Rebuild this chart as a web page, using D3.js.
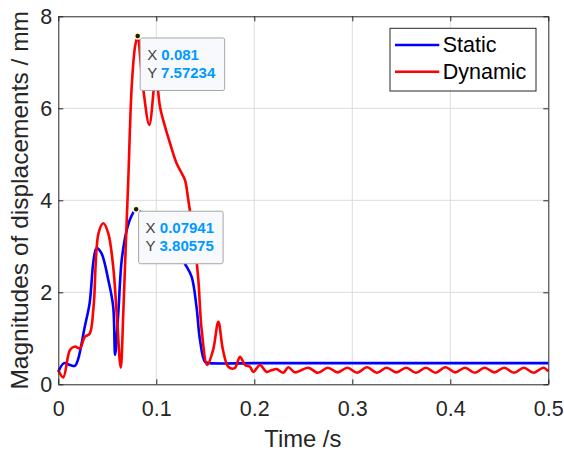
<!DOCTYPE html>
<html>
<head>
<meta charset="utf-8">
<script src="https://cdn.jsdelivr.net/npm/d3@7"></script>
<style>
  body { margin: 0; background: #fff; }
  svg text { font-family: "Liberation Sans", Arial, sans-serif; }
</style>
</head>
<body>
<div class="canvas"></div>
<script>
// data
const staticT = [0, 0.0058, 0.012, 0.017, 0.020, 0.027, 0.032, 0.036, 0.039, 0.044, 0.051, 0.056, 0.058, 0.0612, 0.0647, 0.0698, 0.0745, 0.07941,
                 0.085, 0.095, 0.105, 0.115, 0.122, 0.129, 0.136, 0.141, 0.1446, 0.1497, 0.155, 0.2, 0.3, 0.4, 0.5];
const staticY = [0.27, 0.46, 0.42, 0.40, 0.53, 1.25, 1.77, 2.7, 2.96, 2.85, 2.27, 1.69, 0.64, 1.54, 2.70, 3.35, 3.65, 3.80575,
                 3.72, 3.58, 3.38, 3.12, 2.9, 2.63, 2.34, 1.69, 0.96, 0.49, 0.46, 0.46, 0.46, 0.46, 0.46];

const dynamicT = [0, 0.005, 0.012, 0.017, 0.022, 0.027, 0.032, 0.036, 0.041, 0.046, 0.051, 0.056, 0.0596, 0.0637, 0.0663, 0.0688, 0.0714,
                  0.0749, 0.0783, 0.081, 0.084, 0.0868, 0.0929, 0.0995, 0.1038, 0.1089, 0.114, 0.1208, 0.1259, 0.1293, 0.1327,
                  0.1395, 0.1429, 0.1463, 0.152, 0.158, 0.1633, 0.168, 0.1735, 0.180, 0.1854, 0.1905, 0.1956, 0.199, 0.2058,
                  0.2126, 0.218, 0.223, 0.2296, 0.2347, 0.2415, 0.255, 0.265, 0.275, 0.285, 0.295, 0.305, 0.315, 0.325, 0.335,
                  0.345, 0.355, 0.365, 0.375, 0.385, 0.395, 0.405, 0.415, 0.425, 0.435, 0.445, 0.455, 0.465, 0.475, 0.485, 0.495, 0.5];
const dynamicY = [0.31, 0.15, 0.75, 0.82, 0.78, 1.03, 1.1, 1.69, 3.28, 3.5, 3.28, 2.56, 1.54, 0.36, 1.54, 2.99, 4.44,
                  6.47, 7.34, 7.57234, 7.0, 6.4, 5.64, 6.7, 6.03, 5.6, 5.24, 4.8, 4.59, 4.44, 4.0,
                  2.99, 2.27, 1.18, 0.42, 0.75, 1.36, 0.75, 0.38, 0.35, 0.6, 0.42, 0.38, 0.27, 0.42,
                  0.27, 0.31, 0.33, 0.25, 0.37, 0.26, 0.36, 0.25, 0.36, 0.26, 0.36, 0.25, 0.37, 0.25, 0.36,
                  0.26, 0.36, 0.25, 0.36, 0.25, 0.37, 0.26, 0.36, 0.25, 0.36, 0.26, 0.36, 0.25, 0.36, 0.25, 0.36, 0.28];

const xTicks = [0, 0.1, 0.2, 0.3, 0.4, 0.5];
const yTicks = [0, 2, 4, 6, 8];
const seriesNames = ['Static', 'Dynamic'];
const seriesColors = ['#0000ff', '#ff0000'];
// data tips: [x, y] shown in the picture
const tipPoints = [[0.081, 7.57234], [0.07941, 3.80575]];
const tipLabels = [['0.081', '7.57234'], ['0.07941', '3.80575']];

const width = 564, height = 456;
const margin = { top: 16.3, right: 15.7, bottom: 71.7, left: 58.3 };

const svg = d3.select('.canvas').append('svg')
  .attr('width', width)
  .attr('height', height);

const x = d3.scaleLinear().domain([0, 0.5]).range([margin.left, width - margin.right]);
const y = d3.scaleLinear().domain([0, 8]).range([height - margin.bottom, margin.top]);

// grid
const grid = svg.append('g').attr('stroke', '#dcdcdc').attr('stroke-width', 1);
grid.selectAll('.gx').data(xTicks.slice(1, -1)).enter().append('line')
  .attr('x1', d => x(d)).attr('x2', d => x(d))
  .attr('y1', y(0)).attr('y2', y(8));
grid.selectAll('.gy').data(yTicks.slice(1, -1)).enter().append('line')
  .attr('x1', x(0)).attr('x2', x(0.5))
  .attr('y1', d => y(d)).attr('y2', d => y(d));

// axes (ticks point inward, like matlab)
const axisColor = '#262626';
const xAxis = d3.axisBottom(x).tickValues(xTicks).tickFormat(d => d === 0 ? '0' : d3.format('.1f')(d))
  .tickSizeInner(-5).tickSizeOuter(0).tickPadding(16);
const xAxisTop = d3.axisTop(x).tickValues(xTicks).tickFormat('').tickSizeInner(-5).tickSizeOuter(0);
const yAxis = d3.axisLeft(y).tickValues(yTicks).tickSizeInner(-5).tickSizeOuter(0).tickPadding(6);
const yAxisRight = d3.axisRight(y).tickValues(yTicks).tickFormat('').tickSizeInner(-5).tickSizeOuter(0);

function styleAxis(g) {
  g.select('.domain').attr('stroke', axisColor).attr('stroke-width', 1);
  g.selectAll('.tick line').attr('stroke', axisColor);
  g.selectAll('.tick text').attr('fill', '#262626').style('font-size', '21.5px')
    .style('font-family', '"Liberation Sans", Arial, sans-serif');
}

// lines
const line = d3.line().x(d => x(d[0])).y(d => y(d[1])).curve(d3.curveCatmullRom.alpha(0.5));
const seriesData = [d3.zip(staticT, staticY), d3.zip(dynamicT, dynamicY)];
svg.selectAll('.series').data(seriesData).enter().append('path')
  .attr('class', 'series')
  .attr('fill', 'none')
  .attr('stroke', (d, i) => seriesColors[i])
  .attr('stroke-width', 2.6)
  .attr('stroke-linejoin', 'round')
  .attr('d', line);

svg.append('g').attr('transform', `translate(0,${y(0)})`).call(xAxis).call(styleAxis);
svg.append('g').attr('transform', `translate(0,${y(8)})`).call(xAxisTop).call(styleAxis);
svg.append('g').attr('transform', `translate(${x(0)},0)`).call(yAxis).call(styleAxis);
svg.append('g').attr('transform', `translate(${x(0.5)},0)`).call(yAxisRight).call(styleAxis);

// axis labels
svg.append('text')
  .attr('x', (x(0) + x(0.5)) / 2 - 0.5).attr('y', 447)
  .attr('text-anchor', 'middle')
  .attr('fill', '#262626')
  .style('font-size', '23.8px')
  .text('Time /s');
svg.append('text')
  .attr('transform', `translate(28,${(y(0) + y(8)) / 2}) rotate(-90)`)
  .attr('text-anchor', 'middle')
  .attr('fill', '#262626')
  .style('font-size', '24.5px')
  .text('Magnitudes of displacements / mm');

// legend
const legend = svg.append('g').attr('transform', 'translate(390,28.3)');
legend.append('rect')
  .attr('width', 146).attr('height', 62.7)
  .attr('fill', '#fff').attr('stroke', '#262626').attr('stroke-width', 1);
seriesNames.forEach((name, i) => {
  const ly = 16.7 + i * 26.7;
  legend.append('line')
    .attr('x1', 5).attr('x2', 49.3).attr('y1', ly).attr('y2', ly)
    .attr('stroke', seriesColors[i]).attr('stroke-width', 2.6);
  legend.append('text')
    .attr('x', 52.7).attr('y', ly + 7.5)
    .attr('fill', '#000')
    .style('font-size', '21.5px')
    .text(name);
});

// data tips
tipPoints.forEach((p, i) => {
  const px = x(p[0]), py = y(p[1]);
  const tip = svg.append('g').attr('transform', `translate(${px + 2.5},${py + 2})`);
  tip.append('rect')
    .attr('width', 84.5).attr('height', 52.5).attr('rx', 2)
    .attr('fill', '#f8f9fd').attr('stroke', '#a6a6a6').attr('stroke-width', 1);
  ['X', 'Y'].forEach((lab, j) => {
    const t = tip.append('text')
      .attr('x', 7).attr('y', 22 + j * 18)
      .style('font-size', '15px');
    t.append('tspan').attr('fill', '#404040').text(lab + ' ');
    t.append('tspan').attr('fill', '#0099ff').attr('font-weight', 'bold').text(tipLabels[i][j]);
  });
  svg.append('circle')
    .attr('cx', px).attr('cy', py).attr('r', 3)
    .attr('fill', '#1a1a1a').attr('stroke', '#fff8c8').attr('stroke-width', 1.5);
});
</script>
</body>
</html>
